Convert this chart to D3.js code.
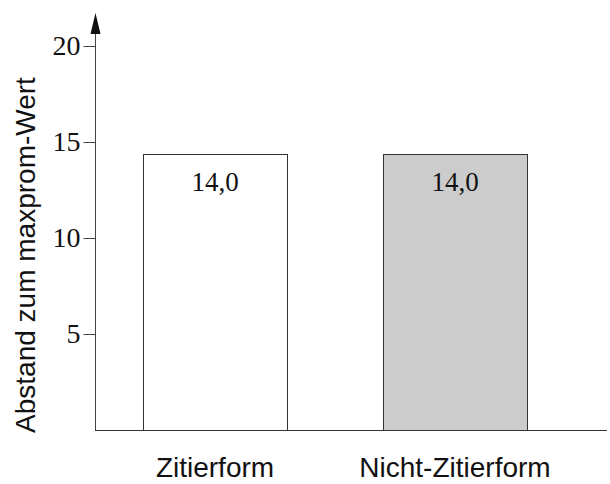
<!DOCTYPE html>
<html>
<head>
<meta charset="utf-8">
<script src="https://cdn.jsdelivr.net/npm/d3@7"></script>
<style>
  body { margin: 0; background: #fff; }
  svg { display: block; }
</style>
</head>
<body>
<div id="chart"></div>
<script>
// data
const kategorije = ["Zitierform", "Nicht-Zitierform"]
const vrijednosti = [14.4, 14.4]
const oznakeVrijednosti = ["14,0", "14,0"]
const boje = ["#ffffff", "#cccccc"]
const tickovi = [5, 10, 15, 20]

const sirina = 610
const visina = 484
const osX = 95
const dno = 430

const svg = d3.select("#chart").append("svg")
    .attr("width", sirina)
    .attr("height", visina)

const x = d3.scaleBand()
    .domain(kategorije)
    .range([osX, 575])
    .paddingInner(0.4)
    .paddingOuter(0.2)

const y = d3.scaleLinear()
    .domain([0, 20])
    .range([dno, 46])

// bars
svg.selectAll("rect.stupac")
  .data(kategorije)
  .join("rect")
    .attr("class", "stupac")
    .attr("x", d => Math.round(x(d)) + 0.5)
    .attr("y", (d, i) => Math.round(y(vrijednosti[i])) + 0.5)
    .attr("width", Math.round(x.bandwidth()))
    .attr("height", (d, i) => Math.round(dno - y(vrijednosti[i])))
    .attr("fill", (d, i) => boje[i])
    .attr("stroke", "#333")
    .attr("stroke-width", 1)

// value labels
svg.selectAll("text.vrijednost")
  .data(kategorije)
  .join("text")
    .attr("class", "vrijednost")
    .attr("x", d => x(d) + x.bandwidth() / 2)
    .attr("y", (d, i) => y(vrijednosti[i]) + 37)
    .attr("text-anchor", "middle")
    .style("font-family", "'Liberation Serif', 'Times New Roman', serif")
    .style("font-size", "27px")
    .attr("fill", "#111")
    .text((d, i) => oznakeVrijednosti[i])

// y axis
const yOs = d3.axisLeft(y)
    .tickValues(tickovi)
    .tickSize(12)
    .tickPadding(3)

const gY = svg.append("g")
    .attr("transform", `translate(${osX + 0.5},0)`)
    .call(yOs)
gY.select(".domain").remove()
gY.selectAll(".tick line").attr("stroke", "#444")
gY.selectAll(".tick text")
    .style("font-family", "'Liberation Serif', 'Times New Roman', serif")
    .style("font-size", "28px")
    .attr("fill", "#111")

svg.append("line")
    .attr("x1", osX + 0.5).attr("x2", osX + 0.5)
    .attr("y1", dno).attr("y2", 30)
    .attr("stroke", "#444")

// arrow
svg.append("path")
    .attr("d", `M${osX + 0.5},13 L${osX - 4.5},34 L${osX + 5.5},34 Z`)
    .attr("fill", "#111")

// x axis line
svg.append("line")
    .attr("x1", osX).attr("x2", 607)
    .attr("y1", dno + 0.5).attr("y2", dno + 0.5)
    .attr("stroke", "#333")

// category labels
svg.selectAll("text.kategorija")
  .data(kategorije)
  .join("text")
    .attr("class", "kategorija")
    .attr("x", d => x(d) + x.bandwidth() / 2)
    .attr("y", 477)
    .attr("text-anchor", "middle")
    .style("font-family", "'Liberation Sans', Arial, sans-serif")
    .style("font-size", "28px")
    .attr("fill", "#111")
    .text(d => d)

// y label
svg.append("text")
    .attr("transform", "translate(35,255) rotate(-90)")
    .attr("text-anchor", "middle")
    .style("font-family", "'Liberation Sans', Arial, sans-serif")
    .style("font-size", "28px")
    .attr("fill", "#111")
    .text("Abstand zum maxprom-Wert")
</script>
</body>
</html>
